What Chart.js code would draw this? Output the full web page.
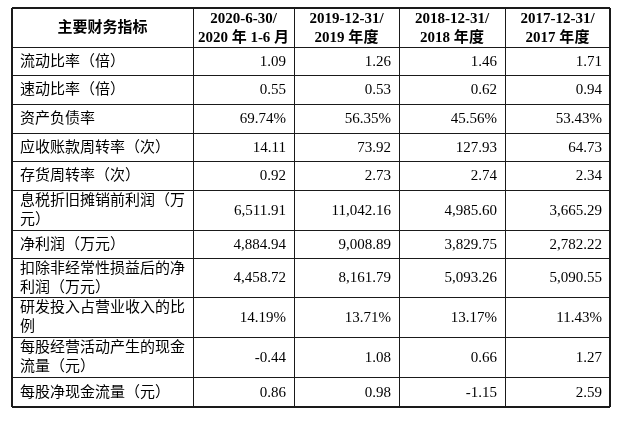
<!DOCTYPE html>
<html>
<head>
<meta charset="utf-8">
<script src="https://cdn.jsdelivr.net/npm/chart.js@4/dist/chart.umd.min.js"></script>
<style>
  html, body { margin: 0; padding: 0; background: #fff; }
  canvas { display: block; }
</style>
</head>
<body>
<canvas id="table" width="640" height="421"></canvas>
<script>
// ---- data ----
const headers = [
  ['主要财务指标'],
  ['2020-6-30/', '2020 年 1-6 月'],
  ['2019-12-31/', '2019 年度'],
  ['2018-12-31/', '2018 年度'],
  ['2017-12-31/', '2017 年度'],
];

const metrics = [
  ['流动比率（倍）'],
  ['速动比率（倍）'],
  ['资产负债率'],
  ['应收账款周转率（次）'],
  ['存货周转率（次）'],
  ['息税折旧摊销前利润（万', '元）'],
  ['净利润（万元）'],
  ['扣除非经常性损益后的净', '利润（万元）'],
  ['研发投入占营业收入的比', '例'],
  ['每股经营活动产生的现金', '流量（元）'],
  ['每股净现金流量（元）'],
];

const percentRows = [2, 8];

const h1_2020 = [1.09, 0.55, 69.74, 14.11, 0.92, 6511.91, 4884.94, 4458.72, 14.19, -0.44, 0.86];
const y2019   = [1.26, 0.53, 56.35, 73.92, 2.73, 11042.16, 9008.89, 8161.79, 13.71, 1.08, 0.98];
const y2018   = [1.46, 0.62, 45.56, 127.93, 2.74, 4985.60, 3829.75, 5093.26, 13.17, 0.66, -1.15];
const y2017   = [1.71, 0.94, 53.43, 64.73, 2.34, 3665.29, 2782.22, 5090.55, 11.43, 1.27, 2.59];

// ---- layout ----
const colWidths  = [181, 101, 105, 106, 105];
const rowHeights = [39, 28, 29, 29, 28, 29, 40, 28, 39, 40, 40, 30];
const CELL_PAD   = 8;
const LINE_GAP   = 19;
const LINE_COLOR = '#1a1a1a';
const FONT_STACK = "'Liberation Serif', 'Noto Sans CJK SC', serif";

const cumulate = (arr) => arr.reduce((acc, v) => { acc.push(acc[acc.length - 1] + v); return acc; }, [0]);
const xEdges = cumulate(colWidths);
const yEdges = cumulate(rowHeights);
const colMid = (c) => (xEdges[c] + xEdges[c + 1]) / 2;
const rowMid = (r) => (yEdges[r] + yEdges[r + 1]) / 2;

function fmt(v, row) {
  const s = v.toLocaleString('en-US', { minimumFractionDigits: 2, maximumFractionDigits: 2 });
  return percentRows.includes(row) ? s + '%' : s;
}

const periods = [h1_2020, y2019, y2018, y2017];

const datasets = [
  {
    cells: headers,
    align: 'center',
    bold: true,
    data: headers.map((_, c) => ({ x: colMid(c), y: rowMid(0), col: c })),
  },
  {
    cells: metrics,
    align: 'left',
    data: metrics.map((_, r) => ({ x: colMid(0), y: rowMid(r + 1), col: 0 })),
  },
  ...periods.map((vals, p) => ({
    cells: vals.map((v, r) => [fmt(v, r)]),
    align: 'right',
    data: vals.map((_, r) => ({ x: colMid(p + 1), y: rowMid(r + 1), col: p + 1 })),
  })),
].map((d) => ({ ...d, pointRadius: 0, pointHoverRadius: 0 }));

const tableText = {
  id: 'tableText',
  afterDatasetsDraw(chart) {
    const { ctx, scales: { x } } = chart;
    ctx.save();
    ctx.fillStyle = '#000';
    ctx.textBaseline = 'middle';
    chart.data.datasets.forEach((ds, di) => {
      const meta = chart.getDatasetMeta(di);
      ctx.font = `${ds.bold ? 'bold ' : ''}15px ${FONT_STACK}`;
      meta.data.forEach((pt, i) => {
        const c = ds.data[i].col;
        const half = (x.getPixelForValue(colWidths[c]) - x.getPixelForValue(0)) / 2;
        let tx = pt.x;
        if (ds.align === 'left') tx = pt.x - half + CELL_PAD;
        if (ds.align === 'right') tx = pt.x + half - CELL_PAD;
        ctx.textAlign = ds.align;
        const lines = ds.cells[i];
        const start = pt.y - (lines.length - 1) * LINE_GAP / 2;
        lines.forEach((line, li) => ctx.fillText(line, tx, start + li * LINE_GAP + 1));
      });
    });
    ctx.restore();
  },
};

function gridAxis(edges, extra) {
  const max = edges[edges.length - 1];
  return {
    type: 'linear',
    min: 0,
    max,
    afterBuildTicks: (axis) => { axis.ticks = edges.map((v) => ({ value: v })); },
    ticks: { display: false },
    border: { display: false },
    grid: {
      drawTicks: false,
      color: LINE_COLOR,
      lineWidth: (ctx) => (ctx.tick && (ctx.tick.value === 0 || ctx.tick.value === max) ? 2 : 1),
    },
    ...extra,
  };
}

new Chart(document.getElementById('table'), {
  type: 'scatter',
  data: { datasets },
  options: {
    responsive: false,
    animation: false,
    devicePixelRatio: 1,
    layout: { padding: { left: 12, top: 8, right: 30, bottom: 14 } },
    plugins: { legend: { display: false }, tooltip: { enabled: false } },
    events: [],
    scales: {
      x: gridAxis(xEdges, {}),
      y: gridAxis(yEdges, { reverse: true }),
    },
  },
  plugins: [tableText],
});
</script>
</body>
</html>
